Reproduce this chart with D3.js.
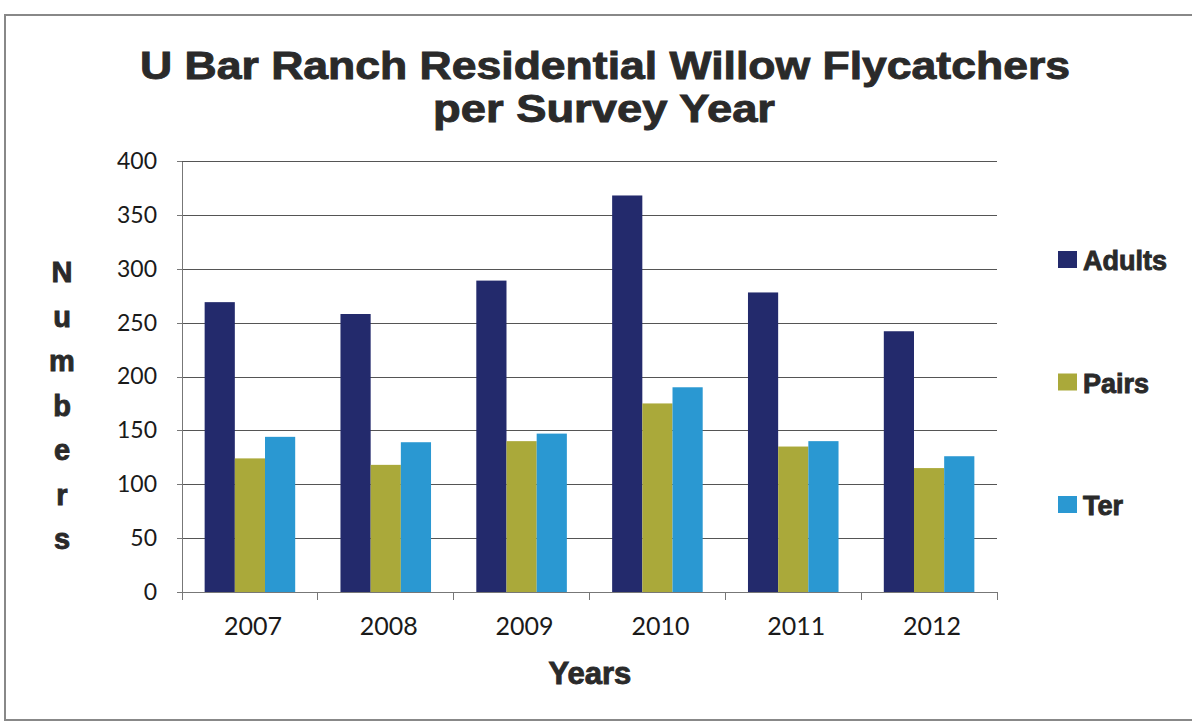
<!DOCTYPE html>
<html>
  <head>
    <meta http-equiv="Content-Type" content="text/html;charset=utf-8"/>
    <style type="text/css">
body {
  margin: 0;
  background: #fff;
}
svg {
  font-family: "Liberation Sans", Arial, sans-serif;
}
.grid line {
  stroke: #555;
  stroke-width: 1px;
  shape-rendering: crispEdges;
}
.axis path, .axis line {
  fill: none;
  stroke: #777;
  shape-rendering: crispEdges;
}
.axis text {
  font-family: Lato, "Open Sans", sans-serif;
  fill: #1a1a1a;
}
.heavy {
  font-weight: bold;
  fill: #2a2a2a;
  stroke: #2a2a2a;
  stroke-width: 0.9px;
}
    </style>
  </head>
  <body>
    <svg></svg>
    <script type="text/javascript" src="https://cdn.jsdelivr.net/npm/d3@7"></script>
    <script type="text/javascript">

var years = ["2007", "2008", "2009", "2010", "2011", "2012"];
var seriesNames = ["Adults", "Pairs", "Ter"];
var adults = [269, 258, 289, 368, 278, 242];
var pairs = [124, 118, 140, 175, 135, 115];
var ter = [144, 139, 147, 190, 140, 126];
var yTicks = [0, 50, 100, 150, 200, 250, 300, 350, 400];

var W = 1192, H = 723;
var m = {top: 161, right: 195, bottom: 131, left: 182};
var w = W - m.left - m.right,
    h = H - m.top - m.bottom;

var color = d3.scaleOrdinal()
    .domain(seriesNames)
    .range(["#232a6c", "#aaa93a", "#2a98d2"]);

var svg_c = d3.select("svg")
    .attr("width", W)
    .attr("height", H);

// scanned page border
svg_c.append("rect")
    .attr("x", 5).attr("y", 15)
    .attr("width", W + 20).attr("height", H - 18)
    .attr("fill", "none")
    .attr("stroke", "#888")
    .attr("stroke-width", 2);

var svg = svg_c.append("g")
    .attr("transform", "translate(" + m.left + "," + m.top + ")");

var x0 = d3.scaleBand().domain(years).range([0, w]);
// Excel default gap width 150%: bars take 3 of 4.5 slots
var barW = x0.bandwidth() / 4.5;
var inner = d3.scaleBand().domain(seriesNames)
    .range([barW * 0.75, x0.bandwidth() - barW * 0.75]);
var y = d3.scaleLinear().domain([0, 400]).range([h, 0]);

// gridlines
svg.append("g")
    .attr("class", "grid")
  .selectAll("line")
    .data(yTicks.filter(d => d > 0))
  .enter().append("line")
    .attr("x1", 0).attr("x2", w)
    .attr("y1", d => Math.round(y(d)) + 0.5)
    .attr("y2", d => Math.round(y(d)) + 0.5);

var data = years.map((yr, i) => ({year: yr, vals: [
  {s: "Adults", v: adults[i]},
  {s: "Pairs", v: pairs[i]},
  {s: "Ter", v: ter[i]}
]}));

var groups = svg.append("g").selectAll("g")
    .data(data)
  .enter().append("g")
    .attr("transform", d => "translate(" + x0(d.year) + ",0)");

groups.selectAll("rect")
    .data(d => d.vals)
  .enter().append("rect")
    .attr("x", d => inner(d.s))
    .attr("width", inner.bandwidth())
    .attr("y", d => y(d.v))
    .attr("height", d => h - y(d.v))
    .attr("fill", d => color(d.s));

// axes
svg.append("g")
    .attr("class", "axis")
    .call(d3.axisLeft(y).tickValues(yTicks).tickSize(5).tickPadding(20).tickSizeOuter(0))
    .selectAll("text")
    .style("font-size", "23px");

var xAxis = svg.append("g")
    .attr("class", "axis")
    .attr("transform", "translate(0," + h + ")");
xAxis.append("line")
    .attr("x1", 0).attr("x2", w)
    .attr("stroke", "#777");
xAxis.selectAll(".tk")
    .data(years.concat(["end"]))
  .enter().append("line")
    .attr("class", "tk")
    .attr("x1", (d, i) => i * x0.step())
    .attr("x2", (d, i) => i * x0.step())
    .attr("y1", 0).attr("y2", 8);
xAxis.selectAll("text")
    .data(years)
  .enter().append("text")
    .attr("x", d => x0(d) + x0.bandwidth() / 2 + 3)
    .attr("y", 43)
    .attr("text-anchor", "middle")
    .style("font-size", "25px")
    .text(d => d);

// titles
var title = svg_c.append("text")
    .attr("class", "heavy")
    .attr("text-anchor", "middle")
    .style("font-size", "38px");
title.append("tspan")
    .attr("x", 605).attr("y", 79)
    .attr("textLength", 930)
    .attr("lengthAdjust", "spacingAndGlyphs")
    .text("U Bar Ranch Residential Willow Flycatchers");
title.append("tspan")
    .attr("x", 604).attr("y", 122)
    .attr("textLength", 342)
    .attr("lengthAdjust", "spacingAndGlyphs")
    .text("per Survey Year");

svg_c.append("text")
    .attr("class", "heavy")
    .attr("x", 590).attr("y", 684)
    .attr("text-anchor", "middle")
    .style("font-size", "31px")
    .text("Years");

svg_c.append("text")
    .attr("class", "heavy")
    .attr("text-anchor", "middle")
    .style("font-size", "29px")
  .selectAll("tspan")
    .data("Numbers".split(""))
  .enter().append("tspan")
    .attr("x", 62)
    .attr("y", (d, i) => 282 + i * 44.5)
    .text(d => d);

// legend
var legend = svg_c.append("g").selectAll("g")
    .data(seriesNames)
  .enter().append("g")
    .attr("transform", (d, i) => "translate(1058," + (260 + i * 122.5) + ")");
legend.append("rect")
    .attr("x", 0).attr("y", -9)
    .attr("width", 19).attr("height", 17)
    .attr("fill", d => color(d));
legend.append("text")
    .attr("class", "heavy")
    .attr("x", 25).attr("y", 10)
    .style("font-size", "27px")
    .text(d => d);

    </script>
  </body>
</html>
